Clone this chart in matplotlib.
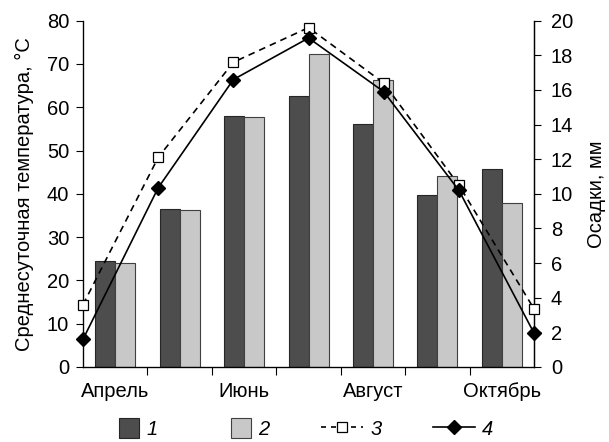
import numpy as np
import matplotlib
matplotlib.use('Agg')
import matplotlib.pyplot as plt
from matplotlib.patches import Patch, Rectangle
from matplotlib.lines import Line2D
from matplotlib.legend_handler import HandlerPatch

plt.rcParams['font.family'] = ['Liberation Sans', 'DejaVu Sans']
plt.rcParams['font.size'] = 14.5

months = ['Апрель', 'Май', 'Июнь', 'Июль', 'Август', 'Сентябрь', 'Октябрь']
shown_labels = ['Апрель', '', 'Июнь', '', 'Август', '', 'Октябрь']

# bars, left axis (°C)
series_1 = [24.6, 36.5, 58.0, 62.5, 56.2, 39.8, 45.7]
series_2 = [24.0, 36.2, 57.8, 72.3, 66.2, 44.1, 37.8]
# lines, right axis (мм)
series_3 = [3.6, 12.1, 17.6, 19.6, 16.4, 10.5, 3.35]
series_4 = [1.6, 10.35, 16.6, 19.0, 15.9, 10.2, 1.95]

dark = '#4d4d4d'
light = '#c8c8c8'

fig = plt.figure(figsize=(6.09, 4.42), dpi=100)
ax = fig.add_axes([0.1363, 0.1697, 0.7407, 0.7835])

x = np.arange(len(months))
w = 0.31
ax.bar(x + 0.5 - w / 2, series_1, width=w, color=dark, edgecolor='#262626',
       linewidth=0.8, zorder=2)
ax.bar(x + 0.5 + w / 2, series_2, width=w, color=light, edgecolor='#404040',
       linewidth=0.8, zorder=2)

ax.set_xlim(0, len(months))
ax.set_ylim(0, 80)
ax.set_yticks(np.arange(0, 81, 10))
ax.set_xticks(x + 0.5)
ax.set_xticklabels(shown_labels)
ax.set_xticks(np.arange(1, len(months)), minor=True)
ax.tick_params(axis='x', which='major', length=0, pad=11)
ax.tick_params(axis='x', which='minor', length=6, width=0.8, direction='out')
ax.tick_params(axis='y', length=5, width=0.8, direction='out', pad=5)
ax.spines['top'].set_visible(False)
for s in ['left', 'bottom', 'right']:
    ax.spines[s].set_linewidth(0.9)
ax.set_ylabel('Среднесуточная температура, °C', labelpad=9)

# lines use their own x scale: points from edge to edge
ax2 = ax.twinx()
ax3 = fig.add_axes(ax.get_position(), frameon=False)
ax3.set_xlim(0, len(months) - 1)
ax3.set_ylim(0, 20)
ax3.set_xticks([])
ax3.set_yticks([])
xl = np.arange(len(months))
ax3.plot(xl, series_3, color='black', linestyle=(0, (4, 3)), linewidth=1.2,
         marker='s', markersize=6.5, markerfacecolor='white',
         markeredgecolor='black', markeredgewidth=0.9, clip_on=False)
ax3.plot(xl, series_4, color='black', linewidth=1.2, marker='D',
         markersize=6.8, markerfacecolor='black', markeredgecolor='black',
         clip_on=False)

ax2.set_ylim(0, 20)
ax2.set_yticks(np.arange(0, 21, 2))
ax2.tick_params(axis='y', length=5, width=0.8, direction='out', pad=7)
ax2.spines['top'].set_visible(False)
ax2.spines['right'].set_linewidth(0.9)
ax2.set_ylabel('Осадки, мм', labelpad=10)


def square_patch(legend, orig_handle, xdescent, ydescent, width, height, fontsize):
    return Rectangle((-xdescent + width - height, -ydescent), height, height)


handles = [
    Patch(facecolor=dark, edgecolor='#262626', linewidth=0.8),
    Patch(facecolor=light, edgecolor='#404040', linewidth=0.8),
    Line2D([], [], color='black', linestyle=(0, (3, 3)), linewidth=1.2,
           marker='s', markersize=6.5, markerfacecolor='white',
           markeredgecolor='black', markeredgewidth=0.9),
    Line2D([], [], color='black', linewidth=1.2, marker='D', markersize=6.8,
           markerfacecolor='black'),
]
labels = ['1', '2', '3', '4']
leg = fig.legend(handles, labels, loc='center', ncol=4, frameon=False,
                 bbox_to_anchor=(0.485, 0.03), handlelength=2.1,
                 handleheight=1.15, handletextpad=0.35, columnspacing=2.55,
                 borderpad=0.2,
                 handler_map={Patch: HandlerPatch(patch_func=square_patch)},
                 prop={'style': 'italic', 'size': 14.5})

fig.savefig('out.png', dpi=100)
